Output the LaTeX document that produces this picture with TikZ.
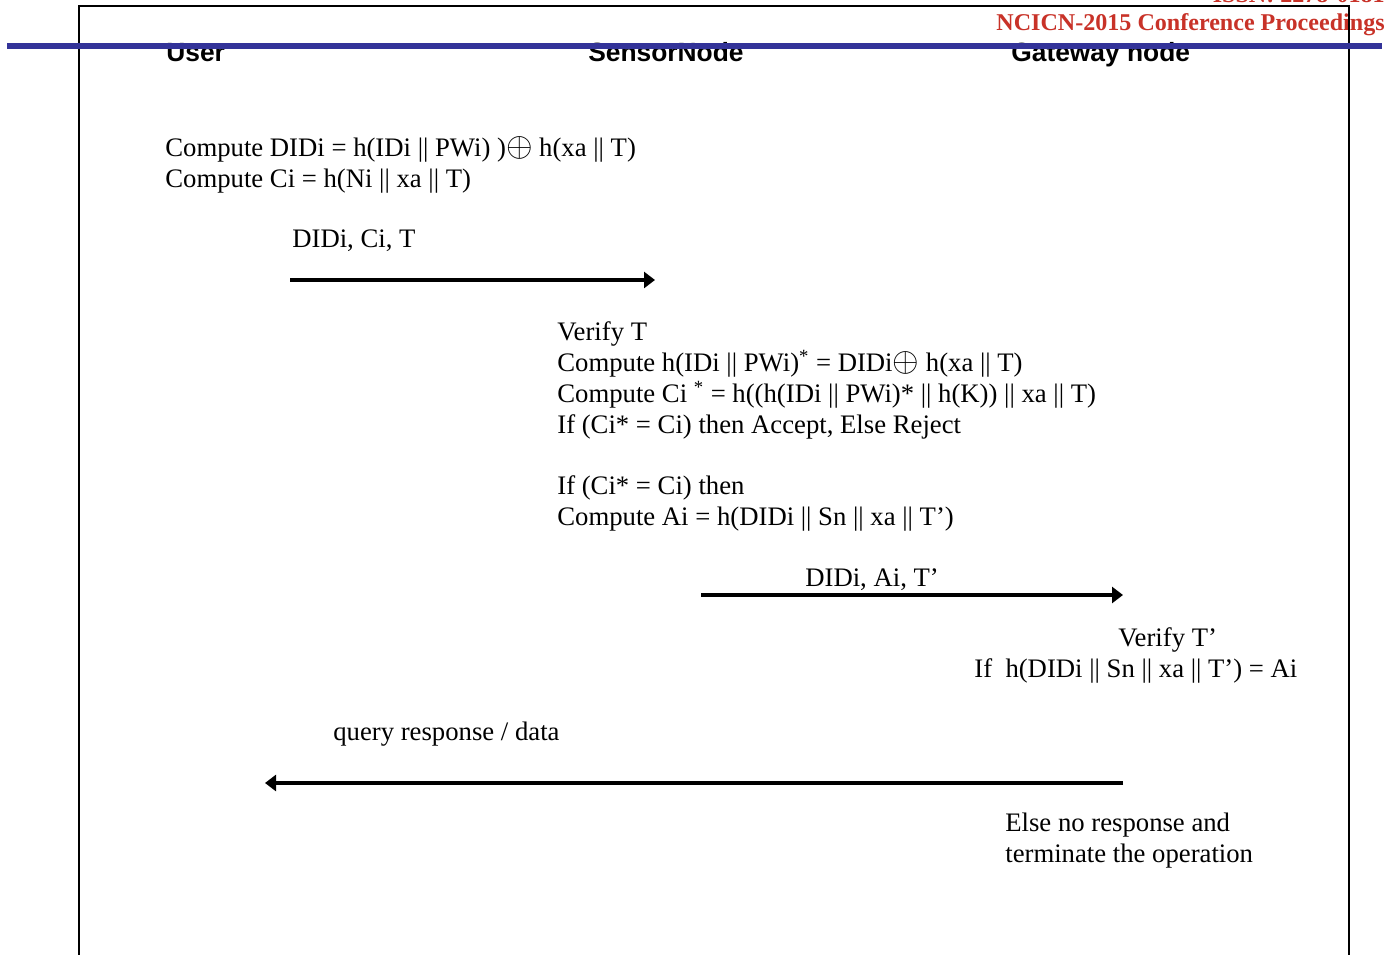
\documentclass[tikz,border=0pt]{standalone}
\usepackage{fontspec}
\setmainfont{Liberation Serif}
\setsansfont{Liberation Sans}
\usepackage{tikz}
\usetikzlibrary{arrows.meta}

\definecolor{headred}{RGB}{200,50,40}
\definecolor{barblue}{RGB}{51,51,153}

\newcommand{\xorop}{\scalebox{1.35}{$\oplus$}}

\tikzset{
  txt/.style = {anchor = base west, inner sep = 0pt, font = \fontsize{15.2}{18}\selectfont},
  party/.style = {anchor = base west, inner sep = 0pt, font = \sffamily\bfseries\fontsize{15}{18}\selectfont},
  msg/.style = {line width = 2.2pt, -{Triangle[length = 2.2mm, width = 3.2mm]}}
}

\begin{document}
\begin{tikzpicture}[x = 0.02cm, y = -0.02cm]

        \useasboundingbox (0,0) rectangle (1386,955);

        % page header
        \node (issn)[anchor = base east, inner sep = 0pt, text = headred,
        font = \bfseries\fontsize{13.7}{16}\selectfont] at (1385,3) {ISSN: 2278-0181};
        \node (conf)[anchor = base east, inner sep = 0pt, text = headred,
        font = \bfseries\fontsize{13.7}{16}\selectfont] at (1385,31) {NCICN-2015 Conference Proceedings};

        % parties
        \node (user)[party] at (166,62) {User};
        \node (sensor)[party] at (588,62) {SensorNode};
        \node (gateway)[party] at (1011,62) {Gateway node};

        % user side
        \node (u_1)[txt] at (165,157) {Compute DIDi = h(IDi || PWi) )\xorop\ h(xa || T)};
        \node (u_2)[txt] at (165,188) {Compute Ci = h(Ni || xa || T)};
        \node (m_1)[txt] at (292,248) {DIDi, Ci, T};
        \coordinate (m_1_from) at (290,280);
        \coordinate (m_1_to) at (655,280);

        % sensor node side
        \node (s_1)[txt] at (557,341) {Verify T};
        \node (s_2)[txt] at (557,372) {Compute h(IDi || PWi)\textsuperscript{*} = DIDi\xorop\ h(xa || T)};
        \node (s_3)[txt] at (557,403) {Compute Ci \textsuperscript{*} = h((h(IDi || PWi)* || h(K)) || xa || T)};
        \node (s_4)[txt] at (557,434) {If (Ci* = Ci) then Accept, Else Reject};
        \node (s_5)[txt] at (557,495) {If (Ci* = Ci) then};
        \node (s_6)[txt] at (557,526) {Compute Ai = h(DIDi || Sn || xa || T’)};
        \node (m_2)[txt] at (805,587) {DIDi, Ai, T’};
        \coordinate (m_2_from) at (701,595);
        \coordinate (m_2_to) at (1123,595);

        % gateway side
        \node (g_1)[txt] at (1118,647) {Verify T’};
        \node (g_2)[txt] at (974,678) {If\ \ h(DIDi || Sn || xa || T’) = Ai};
        \node (m_3)[txt] at (333,740) {query response / data};
        \coordinate (m_3_from) at (1123,783);
        \coordinate (m_3_to) at (265,783);
        \node (g_3)[txt] at (1005,831) {Else no response and};
        \node (g_4)[txt] at (1005,862) {terminate the operation};

        \path (m_1_from) edge[msg] (m_1_to);
        \path (m_2_from) edge[msg] (m_2_to);
        \path (m_3_from) edge[msg] (m_3_to);

        % frame and bar
        \draw[line width = 1.1pt] (79,955) -- (79,6) -- (1349,6) -- (1349,955);
        \draw[barblue, line width = 3.4pt] (7,45.7) -- (1382,45.7);
    \end{tikzpicture}
\end{document}
